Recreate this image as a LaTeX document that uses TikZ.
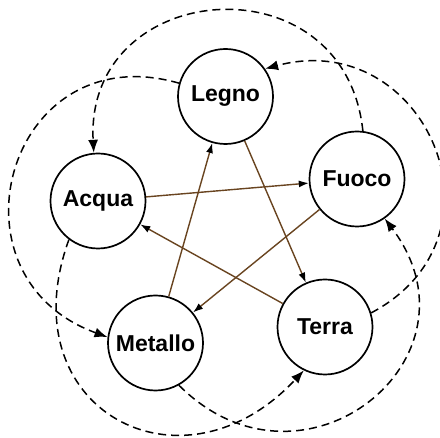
\documentclass[tikz,border=0pt]{standalone}
\usepackage{fontspec}
\setmainfont{Liberation Sans}
\usetikzlibrary{arrows.meta}
\definecolor{brownline}{RGB}{105,68,32}
\tikzset{
  elem/.style={circle, draw=black, line width=1.7pt, minimum size=95pt, inner sep=0pt, fill=white,
    font=\fontsize{23}{26}\selectfont\bfseries},
  destroy/.style={draw=brownline, line width=1.4pt, -{Latex[length=10pt,width=7pt,color=black]}},
  cycle/.style={draw=black, line width=1.5pt, dash pattern=on 8pt off 5pt, -{Latex[length=13pt,width=10pt]}}
}
\begin{document}
\begin{tikzpicture}[x=1pt,y=1pt]
\useasboundingbox (0,0) rectangle (440,438);
\node[elem] (legno)   at (225.5,341.5) {Legno};
\node[elem] (fuoco)   at (357,259) {Fuoco};
\node[elem] (terra)   at (325,111) {Terra};
\node[elem] (metallo) at (155.5,95) {Metallo};
\node[elem] (acqua)   at (98,237) {Acqua};

\draw[cycle] (fuoco.83) to[out=96,in=93,distance=175pt] (acqua.95);
\draw[cycle] (terra.17) to[out=28,in=15,distance=165pt] (legno.35);
\draw[cycle] (legno.164) to[out=164,in=160,distance=178pt] (metallo.173);
\draw[cycle] (acqua.233) to[out=250,in=227,distance=180pt] (terra.244);
\draw[cycle] (metallo.299) to[out=315,in=307,distance=175pt] (fuoco.305);

\draw[destroy] (legno) -- (terra);
\draw[destroy] (acqua) -- (fuoco);
\draw[destroy] (fuoco) -- (metallo);
\draw[destroy] (terra) -- (acqua);
\draw[destroy] (metallo) -- (legno);
\end{tikzpicture}
\end{document}
